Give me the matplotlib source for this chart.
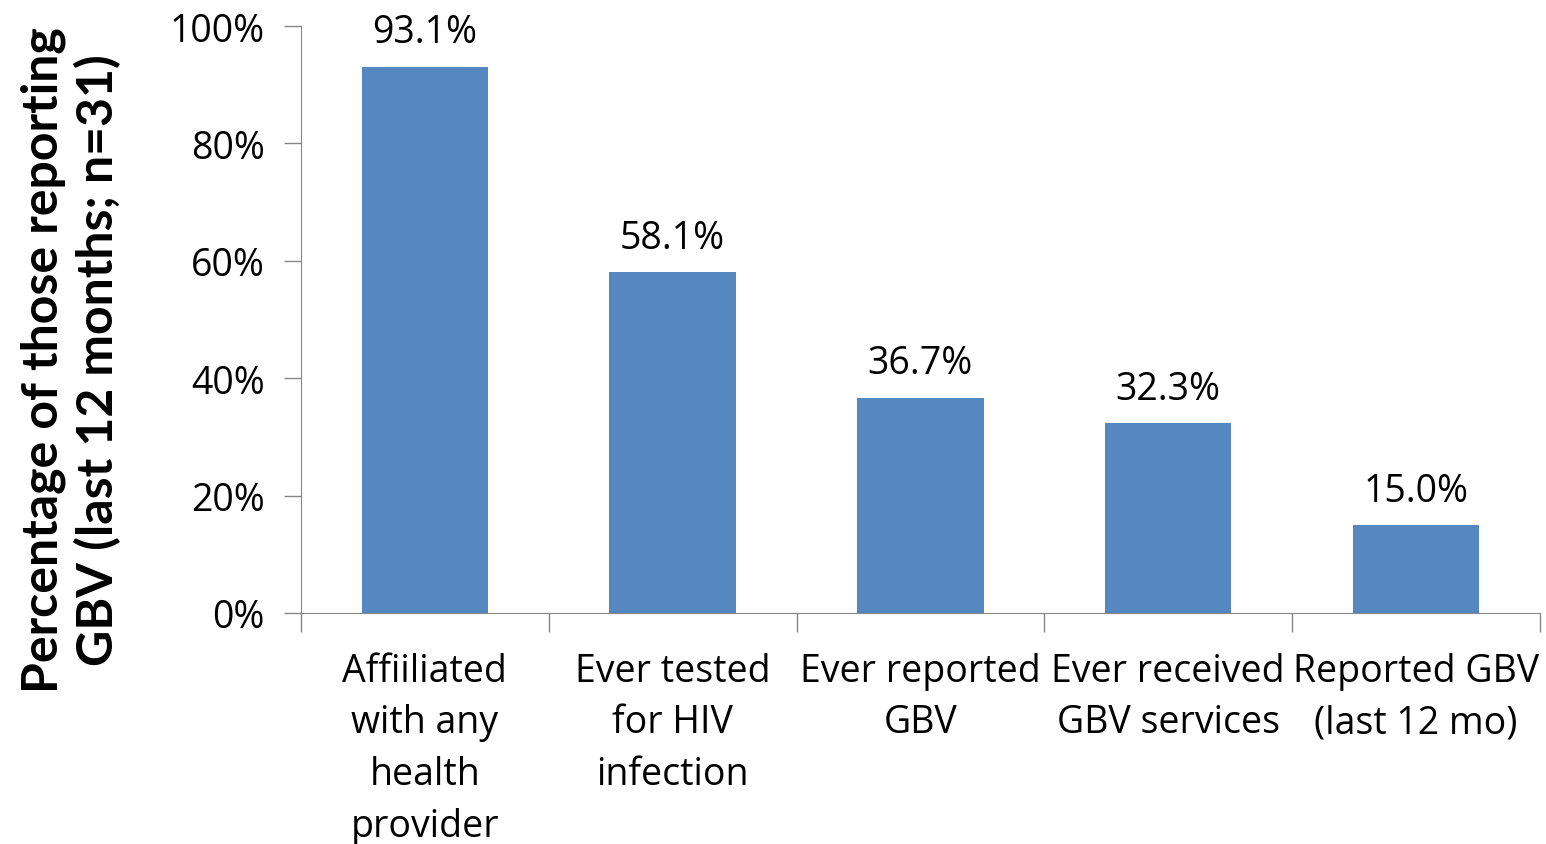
import matplotlib.pyplot as plt
import numpy as np

# data
categories = ['Affiiliated\nwith any\nhealth\nprovider', 'Ever tested\nfor HIV\ninfection',
              'Ever reported\nGBV', 'Ever received\nGBV services', 'Reported GBV\n(last 12 mo)']
values = [93.1, 58.1, 36.7, 32.3, 15.0]
y_ticks = [0, 20, 40, 60, 80, 100]

plt.rcParams['font.family'] = ['Open Sans', 'DejaVu Sans']

fig = plt.figure(figsize=(15.46, 8.45), dpi=100, facecolor='white')
ax = fig.add_axes([0.1947, 0.2734, 0.8013, 0.6946])

x = np.arange(len(categories))
ax.bar(x, values, width=0.51, color='#5587C0', zorder=2)

for xi, v in zip(x, values):
    ax.text(xi, v + 2.6, f'{v:.1f}%', ha='center', va='bottom', fontsize=27)

ax.set_xlim(-0.5, len(categories) - 0.5)
ax.set_ylim(0, 100)
ax.set_yticks(y_ticks)
ax.set_yticklabels([f'{t}%' for t in y_ticks], fontsize=27)

# ticks at category boundaries, labels at centres
ax.set_xticks(np.arange(-0.5, len(categories)), labels=[''] * (len(categories) + 1))
ax.set_xticks(x, labels=categories, minor=True)
ax.tick_params(axis='x', which='major', length=14, width=1, color='#868686')
ax.tick_params(axis='x', which='minor', length=0, pad=28, labelsize=27)
for lab in ax.get_xticklabels(minor=True):
    lab.set_linespacing(1.47)
ax.tick_params(axis='y', length=12, width=1, color='#868686', pad=14)

ax.spines['top'].set_visible(False)
ax.spines['right'].set_visible(False)
ax.spines['left'].set_color('#868686')
ax.spines['bottom'].set_color('#868686')

fig.text(0.046, 0.574, 'Percentage of those reporting\nGBV (last 12 months; n=31)',
         rotation=90, ha='center', va='center', fontsize=36, fontweight='bold',
         family=['Lato', 'DejaVu Sans'], linespacing=1.2)

plt.savefig('out.png', dpi=100, facecolor='white')
plt.close()
